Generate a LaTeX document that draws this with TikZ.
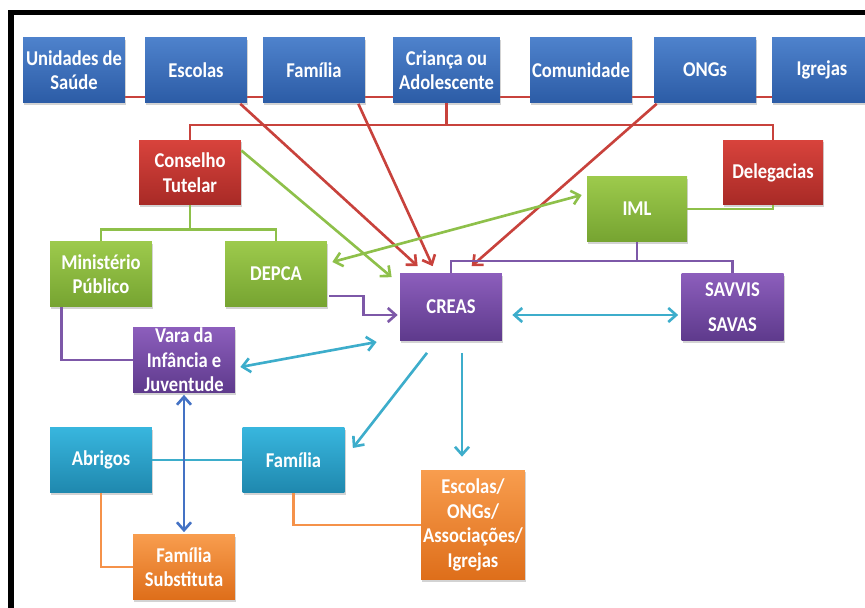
\documentclass[tikz,border=0pt]{standalone}
\usepackage{fontspec}
\setmainfont{Carlito}[FakeStretch=0.88]
\usetikzlibrary{calc,arrows.meta,shadows,backgrounds}

\definecolor{azulA}{HTML}{4E82CC}
\definecolor{azulB}{HTML}{2C5CA6}
\definecolor{vermA}{HTML}{D8433C}
\definecolor{vermB}{HTML}{A82A26}
\definecolor{verdA}{HTML}{9DCA4C}
\definecolor{verdB}{HTML}{76A431}
\definecolor{roxoA}{HTML}{8C5EBC}
\definecolor{roxoB}{HTML}{5E3A8C}
\definecolor{ciaA}{HTML}{38B6DE}
\definecolor{ciaB}{HTML}{1F88AE}
\definecolor{larA}{HTML}{F89D4E}
\definecolor{larB}{HTML}{DE6E1A}
\definecolor{linVerm}{HTML}{C8423C}
\definecolor{linVerd}{HTML}{8EC04A}
\definecolor{linRoxo}{HTML}{7D58A8}
\definecolor{linCia}{HTML}{3DADCB}
\definecolor{linLar}{HTML}{F5924A}
\definecolor{linAzul}{HTML}{4472C4}

\begin{document}
\begin{tikzpicture}[x=0.02cm,y=-0.02cm,
          caixa/.style={rectangle,inner sep=0pt,minimum width=2.04cm,minimum height=1.3cm,text=white,align=center,
            font=\fontsize{12}{14}\selectfont\bfseries,
            drop shadow={shadow xshift=0.6pt,shadow yshift=-1.2pt,opacity=0.35}},
          azul/.style={caixa,top color=azulA,bottom color=azulB},
          vermelha/.style={caixa,top color=vermA,bottom color=vermB},
          verde/.style={caixa,top color=verdA,bottom color=verdB},
          roxa/.style={caixa,top color=roxoA,bottom color=roxoB},
          ciano/.style={caixa,top color=ciaA,bottom color=ciaB},
          laranja/.style={caixa,top color=larA,bottom color=larB},
          linha/.style={line width=1.5pt},
          ponta/.tip={Straight Barb[length=4.5pt,width=8pt]},
          seta/.style={linha,-ponta},
          setadupla/.style={linha,ponta-ponta}]
          \useasboundingbox (0,0) rectangle (865,608);
          \draw[line width=3.2pt] (11,608) -- (11,12.5) -- (866,12.5);
          \node[azul] (unidades) at (74,70) {Unidades de\\Saúde};
          \node[azul] (escolas) at (196,70) {Escolas};
          \node[azul] (familia) at (314,70) {Família};
          \node[azul,minimum width=2.14cm] (crianca) at (446.5,70) {Criança ou\\Adolescente};
          \node[azul] (comunidade) at (581,70) {Comunidade};
          \node[azul] (ongs) at (705,70) {ONGs};
          \node[azul,minimum width=2cm] (igrejas) at (822,70) {Igrejas};
          \node[vermelha] (conselho) at (190,172.5) {Conselho\\Tutelar};
          \node[vermelha,minimum width=2cm] (delegacias) at (773,172.5) {Delegacias};
          \node[verde,minimum width=2cm] (iml) at (637,209) {IML};
          \node[verde] (ministerio) at (101,274) {Ministério\\Público};
          \node[verde] (depca) at (276,274) {DEPCA};
          \node[roxa,minimum height=1.34cm] (creas) at (451,307) {CREAS};
          \node[roxa,minimum height=1.34cm] (savvis) at (732.5,307) {SAVVIS\\[6pt]SAVAS};
          \node[roxa] (vara) at (184,360) {Vara da\\Infância e\\Juventude};
          \node[ciano] (abrigos) at (101,460) {Abrigos};
          \node[ciano] (familiab) at (293.5,460) {Família};
          \node[laranja] (substituta) at (184,567) {Família\\Substituta};
          \node[laranja,minimum width=2.08cm,minimum height=2.2cm] (outros) at (473,525) {Escolas/\\ONGs/\\Associações/\\Igrejas};
          \begin{pgfonlayer}{background}
            \draw[linha,linVerm] ($(unidades.south east)+(0,-6)$) -- ($(igrejas.south west)+(0,-6)$);
          \end{pgfonlayer}
          \draw[linha,linVerm] (crianca.south) -- ++(0,22) coordinate (barra);
          \draw[linha,linVerm] (conselho.north) |- (barra) -| (delegacias.north);
          \draw[seta,linVerm] ($(escolas.south east)+(-7,1)$) -- ($(creas.north west)+(18,-7)$);
          \draw[seta,linVerm] ($(familia.south east)+(-7,1)$) -- ($(creas.north west)+(33,-7)$);
          \draw[seta,linVerm] ($(ongs.south west)+(3,1)$) -- ($(creas.north west)+(72,-7)$);
          \draw[linha,linVerd] (conselho.south) -- ++(0,24) coordinate (ramo);
          \draw[linha,linVerd] (ministerio.north) |- (ramo) -| (depca.north);
          \draw[linha,linVerd] (iml.east) -| (delegacias.south);
          \draw[seta,linVerd] ($(conselho.east)+(0,-22)$) -- ($(creas.north west)+(-8,4)$);
          \draw[setadupla,linVerd] ($(depca.east)+(5,-12)$) -- ($(iml.west)+(-5,-14)$);
          \draw[linha,linRoxo] (iml.south) -- ++(0,19) coordinate (ramob);
          \draw[linha,linRoxo] (creas.north) |- (ramob) -| (savvis.north);
          \draw[seta,linRoxo] ($(depca.east)+(2,22)$) -- ++(34,0) |- ($(creas.west)+(-2,8)$);
          \draw[linha,linRoxo] ($(ministerio.south west)+(12,0)$) |- (vara.west);
          \draw[setadupla,linCia] ($(vara.east)+(5,7)$) -- ($(creas.west)+(-23,35)$);
          \draw[setadupla,linCia] ($(creas.east)+(10,8)$) -- ($(savvis.west)+(-3,8)$);
          \draw[seta,linCia] ($(creas.south)+(-24,12)$) -- ($(familiab.east)+(8,-12)$);
          \draw[seta,linCia] ($(creas.south)+(11,12)$) -- ($(outros.north)+(-11,-13)$);
          \draw[linha,linCia] (abrigos.east) -- (familiab.west);
          \draw[setadupla,linAzul] ($(vara.south)+(0,2)$) -- ($(substituta.north)+(0,-2)$);
          \draw[linha,linLar] (abrigos.south) |- (substituta.west);
          \draw[linha,linLar] (familiab.south) |- (outros.west);
        \end{tikzpicture}
\end{document}
